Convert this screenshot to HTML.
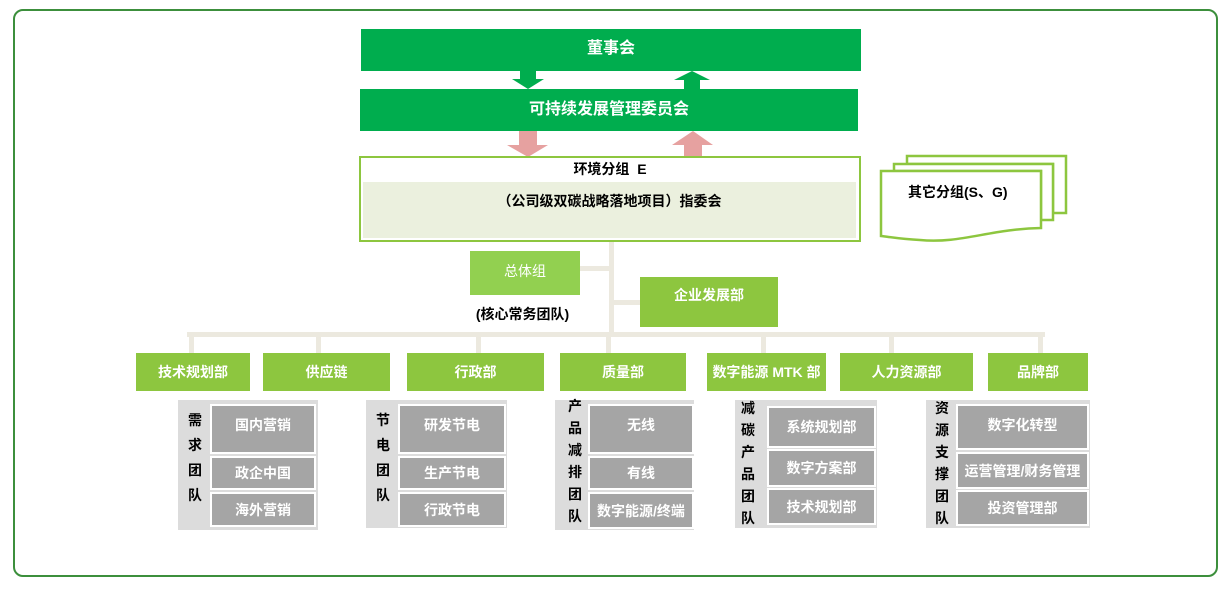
<!DOCTYPE html>
<html><head><meta charset="utf-8"><style>
body{margin:0;width:1227px;height:589px;background:#fff;position:relative;overflow:hidden;font-family:"Liberation Sans","Noto Sans CJK SC",sans-serif;}
div{position:absolute;box-sizing:border-box}
.c{display:flex;align-items:center;justify-content:center;text-align:center;font-weight:bold}
.dg{background:#00ad4e;color:#fff;font-size:16px}
.lg{background:#8dc63f;color:#fff;font-size:14px}
.pn{background:#dcdcdc}
.gb{background:#a5a5a5;color:#fff;font-size:14px;border:2px solid #fff}
.vl{font-size:14px;font-weight:bold;color:#000;line-height:25px;text-align:center}
.ln{background:#ece9df}
</style></head><body>
<div style="left:13px;top:9px;width:1205px;height:568px;border:2px solid #3c8f3c;border-radius:10px"></div>
<div class="c dg" style="left:361px;top:29px;width:500px;height:42px;padding-bottom:8px">董事会</div>
<div class="c dg" style="left:360px;top:89px;width:498px;height:42px;padding-bottom:6px">可持续发展管理委员会</div>
<svg style="position:absolute;left:0;top:0" width="1227" height="589">
<polygon points="520,71 536,71 536,79 544,79 528,89 512,79 520,79" fill="#00ad4e"/>
<polygon points="684,89 700,89 700,80 710,80 692,71 674,80 684,80" fill="#00ad4e"/>
<polygon points="519,131 537,131 537,145 548,145 528,157 507,145 519,145" fill="#e6a1a0"/>
<polygon points="684,157 702,157 702,145 713,145 693,131 672,145 684,145" fill="#e6a1a0"/>
<polygon points="907,156 1066,156 1066,213 1053,213 1053,164 907,164" fill="#fff" stroke="#8dc63f" stroke-width="2.5"/>
<polygon points="894,164 1053,164 1053,220 1041,220 1041,171 894,171" fill="#fff" stroke="#8dc63f" stroke-width="2.5"/>
<path d="M881,171 L1041,171 L1041,228 C990,229 960,244 920,240 C900,239 890,237 881,236 Z" fill="#fff" stroke="#8dc63f" stroke-width="2.5"/>
<text x="908" y="197" font-size="14" font-weight="bold" font-family="Liberation Sans,Noto Sans CJK SC,sans-serif">其它分组(S、G)</text>
</svg>
<div style="left:359px;top:156px;width:502px;height:86px;border:2px solid #8dc63f;background:#fff"></div>
<div style="left:363px;top:182px;width:493px;height:56px;background:#ebf0de"></div>
<div class="c" style="left:359px;top:158px;width:502px;height:22px;font-size:14px">环境分组&nbsp; E</div>
<div class="c" style="left:363px;top:190px;width:493px;height:22px;font-size:14px">（公司级双碳战略落地项目）指委会</div>
<div class="ln" style="left:609px;top:242px;width:5px;height:95px"></div>
<div class="ln" style="left:580px;top:266px;width:31px;height:5px"></div>
<div class="ln" style="left:611px;top:300px;width:30px;height:5px"></div>
<div class="c" style="left:470px;top:251px;width:110px;height:44px;background:#92d050;color:#fff;font-weight:normal;font-size:14px;padding-bottom:4px">总体组</div>
<div class="c lg" style="left:640px;top:277px;width:138px;height:50px;padding-bottom:14px">企业发展部</div>
<div class="c" style="left:465px;top:303px;width:115px;height:22px;font-size:14px">(核心常务团队)</div>
<div class="ln" style="left:187px;top:332px;width:858px;height:5px"></div>
<div class="ln" style="left:189px;top:332px;width:5px;height:22px"></div>
<div class="ln" style="left:316px;top:332px;width:5px;height:22px"></div>
<div class="ln" style="left:476px;top:332px;width:5px;height:22px"></div>
<div class="ln" style="left:606px;top:332px;width:5px;height:22px"></div>
<div class="ln" style="left:761px;top:332px;width:5px;height:22px"></div>
<div class="ln" style="left:889px;top:332px;width:5px;height:22px"></div>
<div class="ln" style="left:1038px;top:332px;width:5px;height:22px"></div>
<div class="c lg" style="left:136px;top:353px;width:114px;height:38px">技术规划部</div>
<div class="c lg" style="left:263px;top:353px;width:127px;height:38px">供应链</div>
<div class="c lg" style="left:407px;top:353px;width:137px;height:38px">行政部</div>
<div class="c lg" style="left:560px;top:353px;width:126px;height:38px">质量部</div>
<div class="c lg" style="left:707px;top:353px;width:119px;height:38px">数字能源 MTK 部</div>
<div class="c lg" style="left:840px;top:353px;width:133px;height:38px">人力资源部</div>
<div class="c lg" style="left:988px;top:353px;width:100px;height:38px">品牌部</div>

<div class="pn" style="left:178px;top:400px;width:140px;height:130px"></div>
<div class="vl" style="left:182px;top:408px;width:26px">需<br>求<br>团<br>队</div>
<div class="c gb" style="left:210px;top:404px;width:106px;height:50px;padding-bottom:8px">国内营销</div>
<div class="c gb" style="left:210px;top:456px;width:106px;height:34px">政企中国</div>
<div class="c gb" style="left:210px;top:492px;width:106px;height:35px">海外营销</div>

<div class="pn" style="left:366px;top:400px;width:141px;height:128px"></div>
<div class="vl" style="left:370px;top:408px;width:26px">节<br>电<br>团<br>队</div>
<div class="c gb" style="left:398px;top:404px;width:108px;height:50px;padding-bottom:8px">研发节电</div>
<div class="c gb" style="left:398px;top:456px;width:108px;height:34px">生产节电</div>
<div class="c gb" style="left:398px;top:492px;width:108px;height:35px">行政节电</div>

<div class="pn" style="left:555px;top:400px;width:139px;height:130px"></div>
<div class="vl" style="left:562px;top:395px;width:26px;line-height:22px">产<br>品<br>减<br>排<br>团<br>队</div>
<div class="c gb" style="left:588px;top:404px;width:106px;height:50px;padding-bottom:8px">无线</div>
<div class="c gb" style="left:588px;top:456px;width:106px;height:34px">有线</div>
<div class="c gb" style="left:588px;top:492px;width:106px;height:37px">数字能源/终端</div>

<div class="pn" style="left:735px;top:400px;width:142px;height:128px"></div>
<div class="vl" style="left:735px;top:397px;width:26px;line-height:22px">减<br>碳<br>产<br>品<br>团<br>队</div>
<div class="c gb" style="left:767px;top:406px;width:109px;height:42px">系统规划部</div>
<div class="c gb" style="left:767px;top:449px;width:109px;height:38px">数字方案部</div>
<div class="c gb" style="left:767px;top:488px;width:109px;height:37px">技术规划部</div>

<div class="pn" style="left:926px;top:400px;width:164px;height:128px"></div>
<div class="vl" style="left:929px;top:397px;width:26px;line-height:22px">资<br>源<br>支<br>撑<br>团<br>队</div>
<div class="c gb" style="left:956px;top:404px;width:133px;height:46px;padding-bottom:4px">数字化转型</div>
<div class="c gb" style="left:956px;top:452px;width:133px;height:37px">运营管理/财务管理</div>
<div class="c gb" style="left:956px;top:490px;width:133px;height:36px">投资管理部</div>
</body></html>
